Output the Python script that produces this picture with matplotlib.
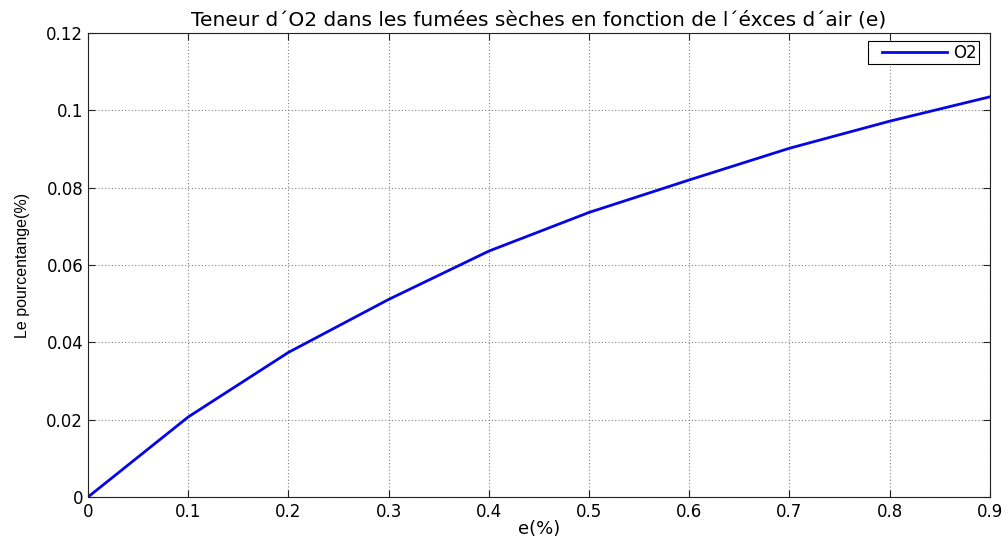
import matplotlib
matplotlib.use("Agg")
import matplotlib.pyplot as plt
from matplotlib.legend_handler import HandlerLine2D

e_values = [0.0, 0.1, 0.2, 0.3, 0.4, 0.5, 0.6, 0.7, 0.8, 0.9]
o2_values = [0.0, 0.0207, 0.0374, 0.0511, 0.0636, 0.0736, 0.0820, 0.0902, 0.0972, 0.1035]
x_ticks = [0, 0.1, 0.2, 0.3, 0.4, 0.5, 0.6, 0.7, 0.8, 0.9]
x_ticklabels = ["0", "0.1", "0.2", "0.3", "0.4", "0.5", "0.6", "0.7", "0.8", "0.9"]
y_ticks = [0, 0.02, 0.04, 0.06, 0.08, 0.1, 0.12]
y_ticklabels = ["0", "0.02", "0.04", "0.06", "0.08", "0.1", "0.12"]

plt.rcParams['font.family'] = ['DejaVu Sans']


class PaddedLineHandler(HandlerLine2D):
    def get_xdata(self, legend, xdescent, ydescent, width, height, fontsize):
        pad = 0.7 * fontsize
        return [-xdescent + pad, -xdescent + width], [-xdescent + 0.5 * width]


fig = plt.figure(figsize=(10.06, 5.37), dpi=100)
ax = fig.add_axes([0.0875, 0.0745, 0.8965, 0.864])
ax.plot(e_values, o2_values, color='#0505e6', linewidth=2.0, label='O2')
ax.set_xlim(0, 0.9)
ax.set_ylim(0, 0.12)
ax.set_xticks(x_ticks)
ax.set_xticklabels(x_ticklabels)
ax.set_yticks(y_ticks)
ax.set_yticklabels(y_ticklabels)
ax.tick_params(direction='in', top=True, right=True, labelsize=12, length=5, width=0.8,
               colors='#222222', labelcolor='black')
ax.tick_params(axis='y', pad=3.5)
ax.tick_params(axis='x', pad=4.5)
ax.grid(True, linestyle=(0, (1, 2)), color='#808080', linewidth=0.8)
for s in ax.spines.values():
    s.set_color('#222222')
    s.set_linewidth(0.8)
ax.set_title("Teneur d\u00b4O2 dans les fum\u00e9es s\u00e8ches en fonction de l\u00b4\u00e9xces d\u00b4air (e)",
             fontsize=14.5, pad=5.5)
ax.set_xlabel("e(%)", fontsize=13)
ax.xaxis.set_label_coords(0.5, -0.05)
ax.set_ylabel("Le pourcentange(%)", fontsize=11.5, family=['Liberation Sans'])
ax.yaxis.set_label_coords(-0.064, 0.5)
leg = ax.legend(loc='upper right', bbox_to_anchor=(0.9878, 0.9828), fontsize=12,
                fancybox=False, framealpha=1, edgecolor='black',
                handlelength=4.6, handletextpad=0.35, borderpad=0.15, borderaxespad=0,
                handler_map={plt.Line2D: PaddedLineHandler()})
leg.get_frame().set_linewidth(0.8)
fig.savefig('out.png', dpi=100)
